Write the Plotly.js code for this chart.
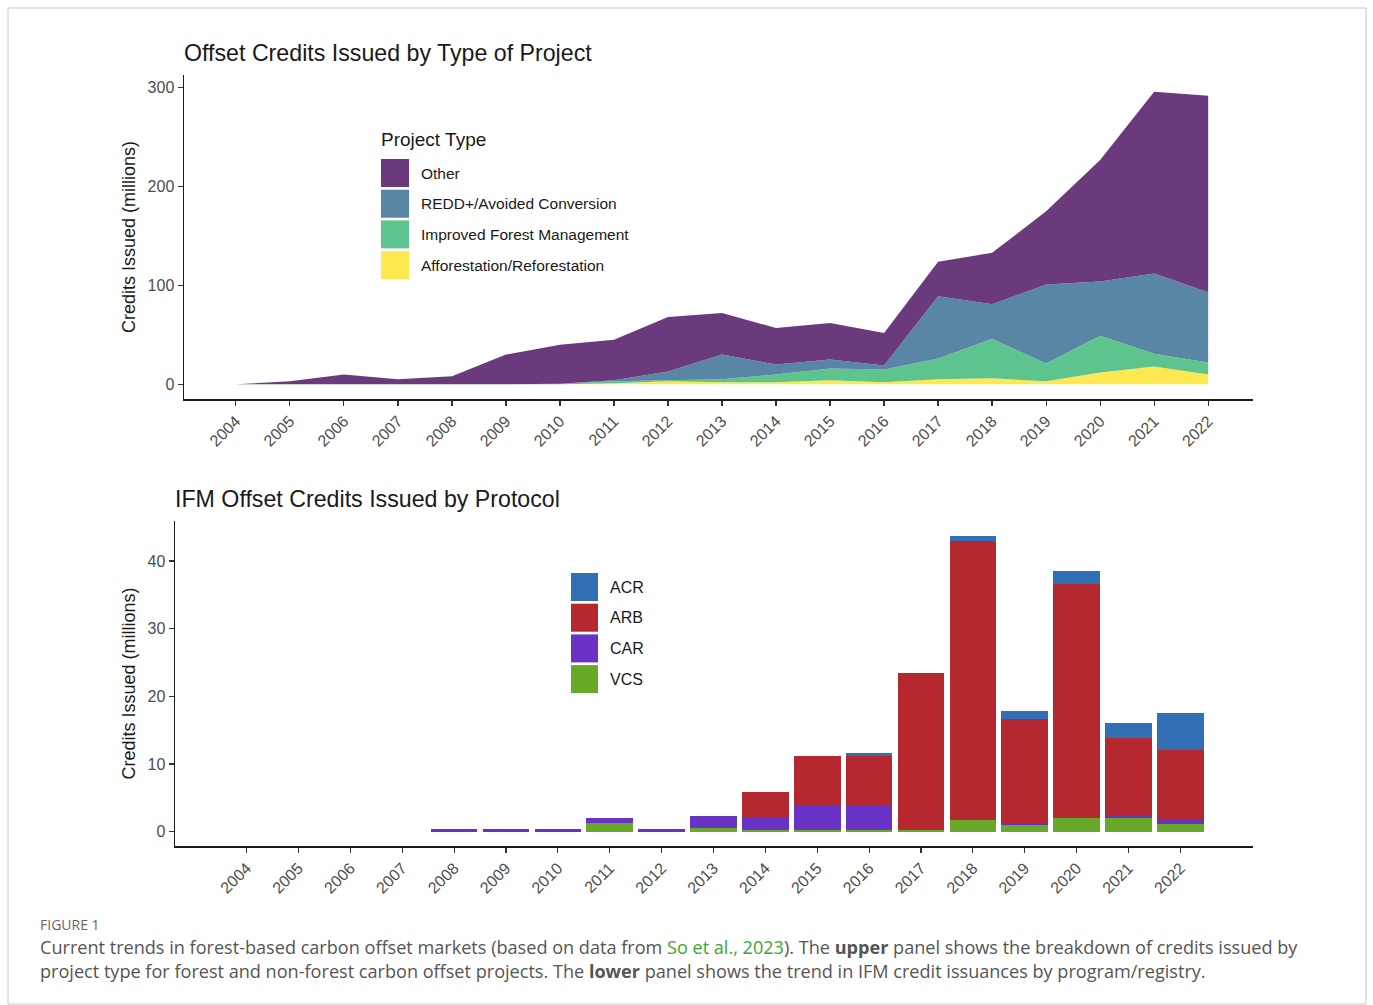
<!DOCTYPE html>
<html>
<head>
<meta charset="utf-8">
<script src="https://cdn.plot.ly/plotly-3.0.1.min.js"></script>
<style>
  html, body { margin: 0; padding: 0; background: #ffffff; }
  #chart { width: 1373px; height: 1005px; }
</style>
</head>
<body>
<div id="chart"></div>
<script>
// ---------- data ----------
const years = [2004, 2005, 2006, 2007, 2008, 2009, 2010, 2011, 2012, 2013, 2014, 2015, 2016, 2017, 2018, 2019, 2020, 2021, 2022];
const yearLabels = years.map(String);

// Upper panel: credits issued by project type (millions)
const afforestation = [0, 0, 0, 0, 0, 0, 0, 1, 3, 2, 2, 4, 2, 5, 6, 3, 12, 18, 10];
const ifmType       = [0, 0, 0, 0, 0, 0, 0.5, 2, 1, 3, 8, 12, 13, 21, 40, 18, 37, 13, 12];
const reddType      = [0, 0, 0, 0, 0, 0, 0, 1, 9, 25, 10, 9, 4, 63, 35, 80, 55, 81, 71];
const otherType     = [0, 3, 10, 5, 8, 30, 39.5, 41, 55, 42, 37, 37, 33, 35, 52, 74, 123, 184, 199];

// Lower panel: IFM credits by protocol (millions)
const vcs = [0, 0, 0, 0, 0, 0, 0, 1.3, 0, 0.6, 0.3, 0.3, 0.2, 0.2, 1.7, 1.0, 2.0, 2.0, 1.1];
const car = [0, 0, 0, 0, 0.35, 0.4, 0.4, 0.8, 0.35, 1.8, 1.9, 3.5, 3.8, 0, 0, 0.2, 0.2, 0.5, 0.7];
const arb = [0, 0, 0, 0, 0, 0, 0, 0, 0, 0, 3.7, 7.4, 7.2, 23.3, 41.3, 15.4, 34.4, 11.3, 10.3];
const acr = [0, 0, 0, 0, 0, 0, 0, 0, 0, 0, 0, 0, 0.4, 0, 0.7, 1.3, 1.9, 2.2, 5.5];

const typeNames  = ['Other', 'REDD+/Avoided Conversion', 'Improved Forest Management', 'Afforestation/Reforestation'];
const typeColors = ['#6a3a7c', '#5a86a5', '#5dc48e', '#fde94f'];
const protoNames  = ['ACR', 'ARB', 'CAR', 'VCS'];
const protoColors = ['#3170b4', '#b5282f', '#6833c4', '#69a92a'];

// ---------- layout helpers ----------
const W = 1373, H = 1005;
const px = x => x / W;
const py = y => 1 - y / H;

const textFont = 'Liberation Sans, Arial, sans-serif';
const tickFont = { family: textFont, size: 16, color: '#4d4d4d' };

const traces = [];
const typeSeries = [afforestation, ifmType, reddType, otherType];
const typeOrder = [3, 2, 1, 0]; // bottom to top in the stack
typeSeries.forEach((vals, i) => {
  const k = typeOrder[i];
  traces.push({
    type: 'scatter', mode: 'none', x: years, y: vals,
    stackgroup: 'types', fillcolor: typeColors[k], name: typeNames[k],
    line: { width: 0 }, xaxis: 'x', yaxis: 'y', showlegend: false,
    hoverinfo: 'x+y+name'
  });
});

const protoSeries = [vcs, car, arb, acr];
const protoOrder = [3, 2, 1, 0];
protoSeries.forEach((vals, i) => {
  const k = protoOrder[i];
  traces.push({
    type: 'bar', x: years, y: vals, name: protoNames[k],
    marker: { color: protoColors[k], line: { width: 0 } },
    width: 0.9, xaxis: 'x2', yaxis: 'y2', showlegend: false
  });
});

const shapes = [];
const annotations = [];

// outer figure frame
shapes.push({ type: 'rect', xref: 'paper', yref: 'paper',
  x0: px(8), x1: px(1366), y0: py(1004), y1: py(8),
  line: { color: '#c8c8c8', width: 1 }, fillcolor: 'rgba(0,0,0,0)', layer: 'below' });

// legends (drawn as swatches + labels)
annotations.push({ xref: 'paper', yref: 'paper', x: px(379), y: py(139), xanchor: 'left', yanchor: 'middle',
  text: 'Project Type', showarrow: false, font: { family: textFont, size: 19, color: '#1a1a1a' } });
typeNames.forEach((n, i) => {
  const cy = 173 + i * 30.7;
  shapes.push({ type: 'rect', xref: 'paper', yref: 'paper',
    x0: px(381), x1: px(409), y0: py(cy + 14), y1: py(cy - 14),
    fillcolor: typeColors[i], line: { width: 0 } });
  annotations.push({ xref: 'paper', yref: 'paper', x: px(419), y: py(cy), xanchor: 'left', yanchor: 'middle',
    text: n, showarrow: false, font: { family: textFont, size: 15.5, color: '#1a1a1a' } });
});
protoNames.forEach((n, i) => {
  const cy = 587 + i * 30.7;
  shapes.push({ type: 'rect', xref: 'paper', yref: 'paper',
    x0: px(571), x1: px(598), y0: py(cy + 14), y1: py(cy - 14),
    fillcolor: protoColors[i], line: { width: 0 } });
  annotations.push({ xref: 'paper', yref: 'paper', x: px(608), y: py(cy), xanchor: 'left', yanchor: 'middle',
    text: n, showarrow: false, font: { family: textFont, size: 16, color: '#1a1a1a' } });
});

// panel titles
annotations.push({ xref: 'paper', yref: 'paper', x: px(182), y: py(53), xanchor: 'left', yanchor: 'middle',
  text: 'Offset Credits Issued by Type of Project', showarrow: false,
  font: { family: textFont, size: 23.2, color: '#1a1a1a' } });
annotations.push({ xref: 'paper', yref: 'paper', x: px(173), y: py(499), xanchor: 'left', yanchor: 'middle',
  text: 'IFM Offset Credits Issued by Protocol', showarrow: false,
  font: { family: textFont, size: 23.2, color: '#1a1a1a' } });

// caption
const capFont = 'Open Sans, Noto Sans, sans-serif';
annotations.push({ xref: 'paper', yref: 'paper', x: px(38), y: py(924), xanchor: 'left', yanchor: 'middle',
  text: 'FIGURE 1', showarrow: false, font: { family: capFont, size: 14, color: '#666666' } });
annotations.push({ xref: 'paper', yref: 'paper', x: px(38), y: py(947), xanchor: 'left', yanchor: 'middle',
  text: 'Current trends in forest-based carbon offset markets (based on data from <span style="color:#3fa535">So et al., 2023</span>). The <b>upper</b> panel shows the breakdown of credits issued by',
  showarrow: false, font: { family: capFont, size: 18.1, color: '#555555' } });
annotations.push({ xref: 'paper', yref: 'paper', x: px(38), y: py(971), xanchor: 'left', yanchor: 'middle',
  text: 'project type for forest and non-forest carbon offset projects. The <b>lower</b> panel shows the trend in IFM credit issuances by program/registry.',
  showarrow: false, font: { family: capFont, size: 18.1, color: '#555555' } });

const axisCommon = {
  showline: true, linecolor: '#1a1a1a', linewidth: 1.5, mirror: false,
  ticks: 'outside', ticklen: 5, tickwidth: 1.2, tickcolor: '#333333',
  showgrid: false, zeroline: false, tickfont: tickFont, fixedrange: true
};

const layout = {
  width: W, height: H,
  margin: { l: 0, r: 0, t: 0, b: 0 },
  paper_bgcolor: '#ffffff', plot_bgcolor: '#ffffff',
  showlegend: false,
  barmode: 'stack',
  xaxis: Object.assign({}, axisCommon, {
    domain: [px(184), px(1253)], anchor: 'y',
    range: [2003.04, 2022.83], tickvals: years, ticktext: yearLabels, tickangle: -45
  }),
  yaxis: Object.assign({}, axisCommon, {
    domain: [py(399), py(75)], anchor: 'x',
    range: [-14.9, 312.9], tickvals: [0, 100, 200, 300],
    title: { text: 'Credits Issued (millions)', standoff: 7, font: { family: textFont, size: 18, color: '#1a1a1a' } }
  }),
  xaxis2: Object.assign({}, axisCommon, {
    domain: [px(175), px(1253)], anchor: 'y2',
    range: [2002.62, 2023.4], tickvals: years, ticktext: yearLabels, tickangle: -45
  }),
  yaxis2: Object.assign({}, axisCommon, {
    domain: [py(846), py(521)], anchor: 'x2',
    range: [-2.1, 45.9], tickvals: [0, 10, 20, 30, 40],
    title: { text: 'Credits Issued (millions)', standoff: 7, font: { family: textFont, size: 18, color: '#1a1a1a' } }
  }),
  shapes: shapes,
  annotations: annotations
};

Plotly.newPlot('chart', traces, layout, { displayModeBar: false, staticPlot: true });
</script>
</body>
</html>
